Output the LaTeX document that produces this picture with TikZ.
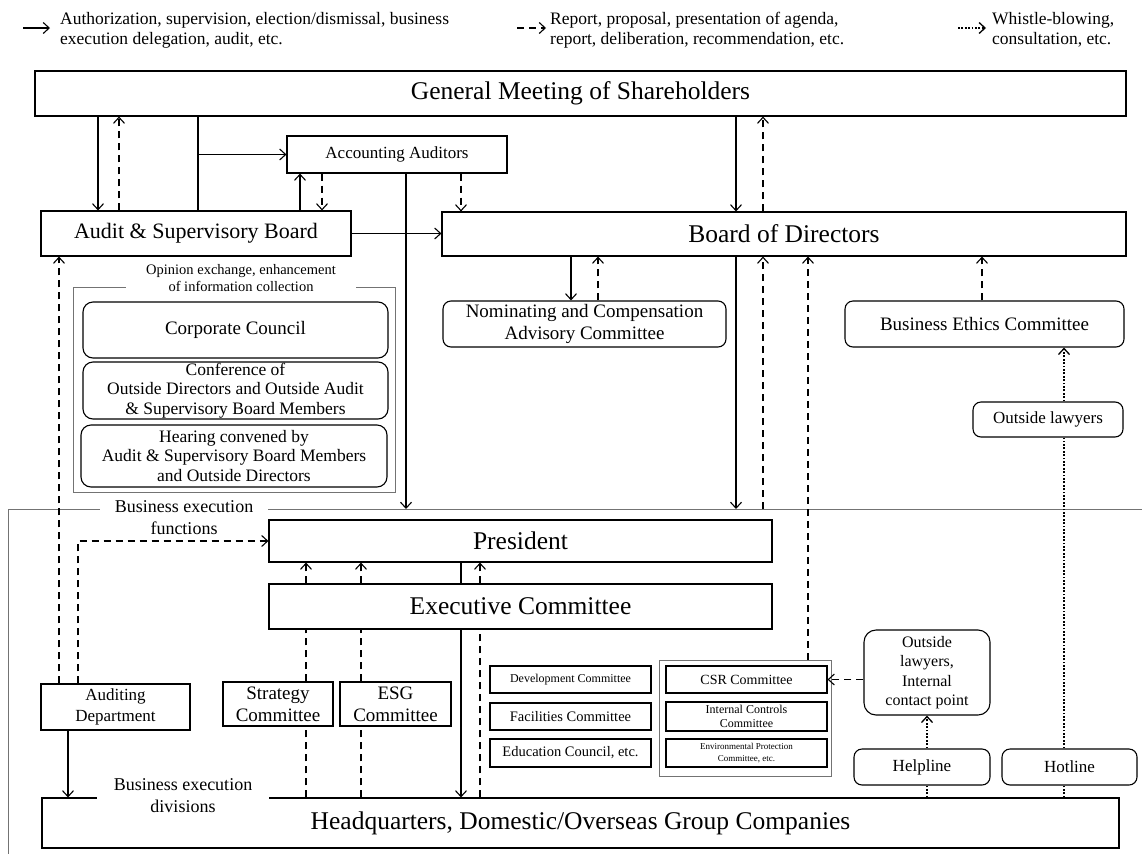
\documentclass[tikz,border=0pt]{standalone}
\usepackage{fontspec}
\setmainfont{Liberation Serif}
\usetikzlibrary{arrows.meta}

\newcommand{\fsz}[2]{\fontsize{#1}{#2}\selectfont}

\begin{document}
\begin{tikzpicture}[
  x=1pt, y=-1pt,
  box/.style={draw, line width=1.1pt, inner sep=0pt, align=center, fill=white},
  rbox/.style={box, rounded corners=8pt},
  frame/.style={draw=black!55, line width=0.8pt, inner sep=0pt},
  gap/.style={fill=white, inner xsep=15pt, inner ysep=1pt, align=center},
  keytext/.style={align=left, inner sep=0pt, font=\fsz{17.5}{20}},
  big/.style={font=\fsz{25.5}{30}},
  cline/.style={line width=1.1pt},
  carr/.style={cline, -{Straight Barb[length=6pt,width=11pt]}},
  dline/.style={cline, dash pattern=on 7pt off 5pt},
  darr/.style={carr, dash pattern=on 7pt off 5pt},
  wline/.style={line width=1.7pt, dash pattern=on 1.8pt off 1.6pt},
  warr/.style={wline, -{Straight Barb[length=6pt,width=11pt,line width=1.3pt]}}
]
\useasboundingbox (0,0) rectangle (1142,854);

% legend
\coordinate (k1) at (23,28);
\coordinate (k2) at (517,28);
\coordinate (k3) at (958,28);
\node[keytext, anchor=west] (leg1) at (60,30)
  {Authorization, supervision, election/dismissal, business\\execution delegation, audit, etc.};
\node[keytext, anchor=west] (leg2) at (550,30)
  {Report, proposal, presentation of agenda,\\report, deliberation, recommendation, etc.};
\node[keytext, anchor=west] (leg3) at (992,30)
  {Whistle-blowing,\\consultation, etc.};
\draw[carr, shorten >=10pt] (k1) -- (k1 -| leg1.west);
\draw[darr, shorten >=4pt] (k2) -- (k2 -| leg2.west);
\draw[warr, shorten >=6pt] (k3) -- (k3 -| leg3.west);

% supervision side
\node[box, big, minimum width=1091, minimum height=45] (gms) at (580.5,93.5) {General Meeting of Shareholders};
\node[box, font=\fsz{17}{20}, minimum width=220, minimum height=37] (aa) at (397,154.5) {Accounting Auditors};
\node[box, font=\fsz{22}{26}, minimum width=310, minimum height=45] (asb) at (196,233.5) {Audit \& Supervisory Board};
\node[box, big, minimum width=684, minimum height=44] (bod) at (784,234) {Board of Directors};
\node[rbox, font=\fsz{19}{22}, minimum width=283, minimum height=46] (ncac) at (584.5,324)
  {Nominating and Compensation\\Advisory Committee};
\node[rbox, font=\fsz{19}{22}, minimum width=279, minimum height=46] (bec) at (984.5,324) {Business Ethics Committee};
\node[rbox, font=\fsz{17}{20}, minimum width=150, minimum height=35] (olaw) at (1048,419.5) {Outside lawyers};

% opinion exchange group
\node[frame, minimum width=322, minimum height=205] (opin) at (234,389.5) {};
\node[gap, inner xsep=20pt, font=\fsz{14.5}{17}] (opinlbl) at (241,278.5)
  {Opinion exchange, enhancement\\of information collection};
\node[rbox, rounded corners=10pt, font=\fsz{19}{22}, minimum width=305, minimum height=56] (cc) at (235.5,330) {Corporate Council};
\node[rbox, rounded corners=10pt, font=\fsz{17.5}{19.5}, minimum width=305, minimum height=57] (conf) at (235.5,390.5)
  {Conference of\\Outside Directors and Outside Audit\\\& Supervisory Board Members};
\node[rbox, rounded corners=10pt, font=\fsz{17.5}{19.5}, minimum width=306, minimum height=62] (hear) at (234,456)
  {Hearing convened by\\Audit \& Supervisory Board Members\\and Outside Directors};

% business execution functions
\coordinate (ftop) at (8,509);
\coordinate (fright) at (1142,509);
\coordinate (fbot) at (8,854);
\draw[frame] (fright) -- (ftop) -- (fbot);
\node[gap, font=\fsz{18}{22}] (bef) at (184,518) {Business execution\\functions};

\node[box, big, minimum width=503, minimum height=42] (pres) at (520.5,541) {President};
\node[box, big, minimum width=503, minimum height=45] (exec) at (520.5,606.5) {Executive Committee};
\node[box, font=\fsz{17}{21}, minimum width=149, minimum height=46] (aud) at (115.5,707) {Auditing\\Department};
\node[box, font=\fsz{19}{22}, minimum width=110, minimum height=44] (strat) at (278,704) {Strategy\\Committee};
\node[box, font=\fsz{19}{22}, minimum width=111, minimum height=44] (esg) at (395.5,704) {ESG\\Committee};

\node[box, font=\fsz{12}{14}, minimum width=161, minimum height=27] (dev) at (570.5,679.5) {Development Committee};
\node[box, font=\fsz{14.5}{16}, minimum width=161, minimum height=27] (fac) at (570.5,716.5) {Facilities Committee};
\node[box, font=\fsz{14.5}{16}, minimum width=161, minimum height=28] (edu) at (570.5,753) {Education Council, etc.};
\node[frame, minimum width=172, minimum height=116] (csrgrp) at (745,718) {};
\node[box, font=\fsz{14}{16}, minimum width=161, minimum height=27] (csr) at (746.5,679.5) {CSR Committee};
\node[box, font=\fsz{12}{14}, minimum width=161, minimum height=29] (ic) at (746.5,716.5) {Internal Controls\\Committee};
\node[box, font=\fsz{9}{12}, minimum width=161, minimum height=28] (ep) at (746.5,753) {Environmental Protection\\Committee, etc.};

\node[rbox, rounded corners=12pt, font=\fsz{16}{19.3}, minimum width=126, minimum height=85] (olicp) at (927,672.5)
  {Outside\\lawyers,\\Internal\\contact point};
\node[rbox, font=\fsz{17}{20}, minimum width=136, minimum height=36] (help) at (922,767) {Helpline};
\node[rbox, font=\fsz{17}{20}, minimum width=135, minimum height=36] (hot) at (1069.5,767) {Hotline};

\node[box, big, minimum width=1077, minimum height=50] (hq) at (580.5,823) {Headquarters, Domestic/Overseas Group Companies};
\node[gap, inner xsep=17pt, font=\fsz{18}{22}] (bed) at (183,796) {Business execution\\divisions};

% connector lanes
\coordinate (la) at (98,0);
\coordinate (lb) at (119,0);
\coordinate (lc) at (198,0);
\coordinate (ld) at (300,0);
\coordinate (le) at (322,0);
\coordinate (lf) at (406,0);
\coordinate (lg) at (461,0);
\coordinate (lh) at (571,0);
\coordinate (li) at (598,0);
\coordinate (lj) at (736,0);
\coordinate (lk) at (763,0);
\coordinate (ll) at (808,0);
\coordinate (lm) at (982,0);
\coordinate (ln) at (1064,0);
\coordinate (lo) at (927,0);
\coordinate (lp) at (59,0);
\coordinate (lq) at (78,0);
\coordinate (lr) at (68,0);
\coordinate (ls) at (306,0);
\coordinate (lt) at (361,0);
\coordinate (lu) at (461,0);
\coordinate (lv) at (480,0);

\draw[carr] (la |- gms.south) -- (la |- asb.north);
\draw[darr] (lb |- asb.north) -- (lb |- gms.south);
\draw[cline] (lc |- gms.south) -- (lc |- asb.north);
\draw[carr] (lc |- aa.west) -- (aa.west);
\draw[carr] (ld |- asb.north) -- (ld |- aa.south);
\draw[darr] (le |- aa.south) -- (le |- asb.north);
\draw[carr] (lf |- aa.south) -- (lf |- ftop);
\draw[darr] (lg |- aa.south) -- (lg |- bod.north);
\draw[carr] (asb.east) -- (asb.east -| bod.west);
\draw[carr] (lj |- gms.south) -- (lj |- bod.north);
\draw[darr] (lk |- bod.north) -- (lk |- gms.south);
\draw[carr] (lh |- bod.south) -- (lh |- ncac.north);
\draw[darr] (li |- ncac.north) -- (li |- bod.south);
\draw[carr] (lj |- bod.south) -- (lj |- ftop);
\draw[darr] (lk |- ftop) -- (lk |- bod.south);
\draw[darr] (ll |- csrgrp.north) -- (ll |- bod.south);
\draw[darr] (lm |- bec.north) -- (lm |- bod.south);

% whistle-blowing
\draw[warr] (ln |- olaw.north) -- (ln |- bec.south);
\draw[wline] (ln |- hot.north) -- (ln |- olaw.south);
\draw[wline] (ln |- hq.north) -- (ln |- hot.south);
\draw[warr] (lo |- help.north) -- (lo |- olicp.south);
\draw[wline] (lo |- hq.north) -- (lo |- help.south);
\draw[darr] (olicp.west |- csr.east) -- (csr.east);

% auditing department
\draw[darr] (lp |- aud.north) -- (lp |- asb.south);
\draw[darr] (lq |- aud.north) |- (pres.west);
\draw[carr] (lr |- aud.south) -- (lr |- hq.north);

% execution lines
\draw[dline] (ls |- hq.north) -- (ls |- strat.south);
\draw[dline] (ls |- strat.north) -- (ls |- exec.south);
\draw[darr] (ls |- exec.north) -- (ls |- pres.south);
\draw[dline] (lt |- hq.north) -- (lt |- esg.south);
\draw[dline] (lt |- esg.north) -- (lt |- exec.south);
\draw[darr] (lt |- exec.north) -- (lt |- pres.south);
\draw[cline] (lu |- pres.south) -- (lu |- exec.north);
\draw[carr] (lu |- exec.south) -- (lu |- hq.north);
\draw[dline] (lv |- hq.north) -- (lv |- exec.south);
\draw[darr] (lv |- exec.north) -- (lv |- pres.south);

\end{tikzpicture}
\end{document}
